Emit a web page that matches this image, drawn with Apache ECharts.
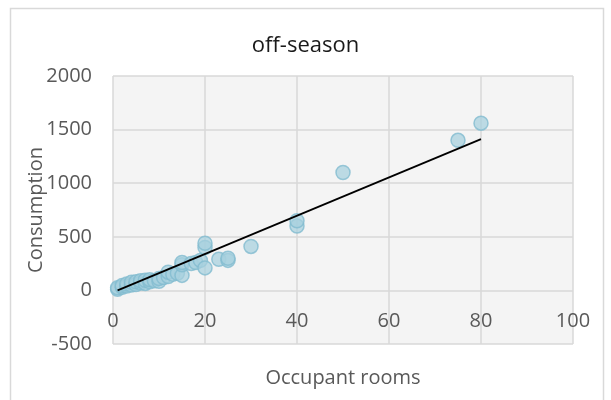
<!DOCTYPE html>
<html>
<head>
<meta charset="utf-8">
<script src="https://cdn.jsdelivr.net/npm/echarts@6/dist/echarts.min.js"></script>
<style>
  html, body { margin: 0; padding: 0; background: #ffffff; }
  #chart { width: 611px; height: 400px; }
</style>
</head>
<body>
<div id="chart"></div>
<script>
// Occupied rooms vs. consumption during the off-season
const rooms = [1, 1, 2, 2, 3, 3, 4, 4, 5, 5, 6, 6, 7, 7, 8, 8, 9, 10, 10, 11, 12, 12, 13, 14, 15, 15, 15, 17, 18, 19, 20, 20, 20, 23, 25, 25, 30, 40, 40, 50, 75, 80];
const consumption = [10, 25, 30, 45, 40, 60, 50, 75, 55, 80, 70, 90, 65, 95, 80, 100, 90, 85, 110, 120, 130, 170, 150, 160, 140, 240, 260, 250, 260, 280, 210, 400, 440, 290, 280, 300, 410, 600, 650, 1100, 1400, 1560];

// Linear trendline: consumption = slope * rooms + intercept
const trendSlope = 17.86;
const trendIntercept = -18;
const trendRange = [1, 80];

const xTicks = { min: 0, max: 100, step: 20 };
const yTicks = { min: -500, max: 2000, step: 500 };

const points = rooms.map((r, i) => [r, consumption[i]]);
const trendPoints = trendRange.map(x => [x, trendSlope * x + trendIntercept]);

const fontFamily = '"Open Sans", "Noto Sans", sans-serif';
const gridColor = '#d9d9d9';
const labelColor = '#595959';

const chart = echarts.init(document.getElementById('chart'));
chart.setOption({
  backgroundColor: '#ffffff',
  animation: false,
  title: {
    text: 'off-season',
    left: 'center',
    top: 30,
    textStyle: { fontFamily, fontSize: 22, fontWeight: 'normal', color: '#1a1a1a' }
  },
  graphic: [{
    type: 'rect',
    shape: { x: 10.5, y: 8.5, width: 593, height: 400 },
    style: { fill: 'none', stroke: '#d9d9d9', lineWidth: 1.5 },
    silent: true,
    z: -1
  }],
  grid: {
    left: 113, right: 38, top: 76, bottom: 56,
    outerBoundsMode: 'none',
    containLabel: false,
    show: true,
    backgroundColor: '#f4f4f4',
    borderWidth: 0
  },
  xAxis: {
    type: 'value',
    min: xTicks.min, max: xTicks.max, interval: xTicks.step,
    name: 'Occupant rooms',
    nameLocation: 'middle',
    nameGap: 24,
    nameMoveOverlap: false,
    nameTextStyle: { fontFamily, fontSize: 20, color: labelColor },
    axisLine: { show: false, onZero: false },
    axisTick: { show: false },
    // tick labels sit just under the zero line, inside the plot
    axisLabel: { margin: -33, fontFamily, fontSize: 20, color: labelColor, formatter: v => String(v) },
    splitLine: { show: true, lineStyle: { color: gridColor, width: 1.5 } }
  },
  yAxis: {
    type: 'value',
    min: yTicks.min, max: yTicks.max, interval: yTicks.step,
    name: 'Consumption',
    nameLocation: 'middle',
    nameGap: 67,
    nameMoveOverlap: false,
    nameTextStyle: { fontFamily, fontSize: 20, color: labelColor },
    axisLine: { show: false },
    axisTick: { show: false },
    axisLabel: { margin: 21, fontFamily, fontSize: 20, color: labelColor, formatter: v => String(v) },
    splitLine: { show: true, lineStyle: { color: gridColor, width: 1.5 } }
  },
  series: [
    {
      type: 'scatter',
      data: points,
      symbol: 'circle',
      symbolSize: 14,
      itemStyle: {
        color: 'rgba(166, 208, 222, 0.9)',
        borderColor: '#82bcd0',
        borderWidth: 1.5
      },
      z: 2
    },
    {
      type: 'line',
      data: trendPoints,
      showSymbol: false,
      symbol: 'none',
      lineStyle: { color: '#000000', width: 1.8 },
      z: 3
    }
  ]
});
</script>
</body>
</html>
